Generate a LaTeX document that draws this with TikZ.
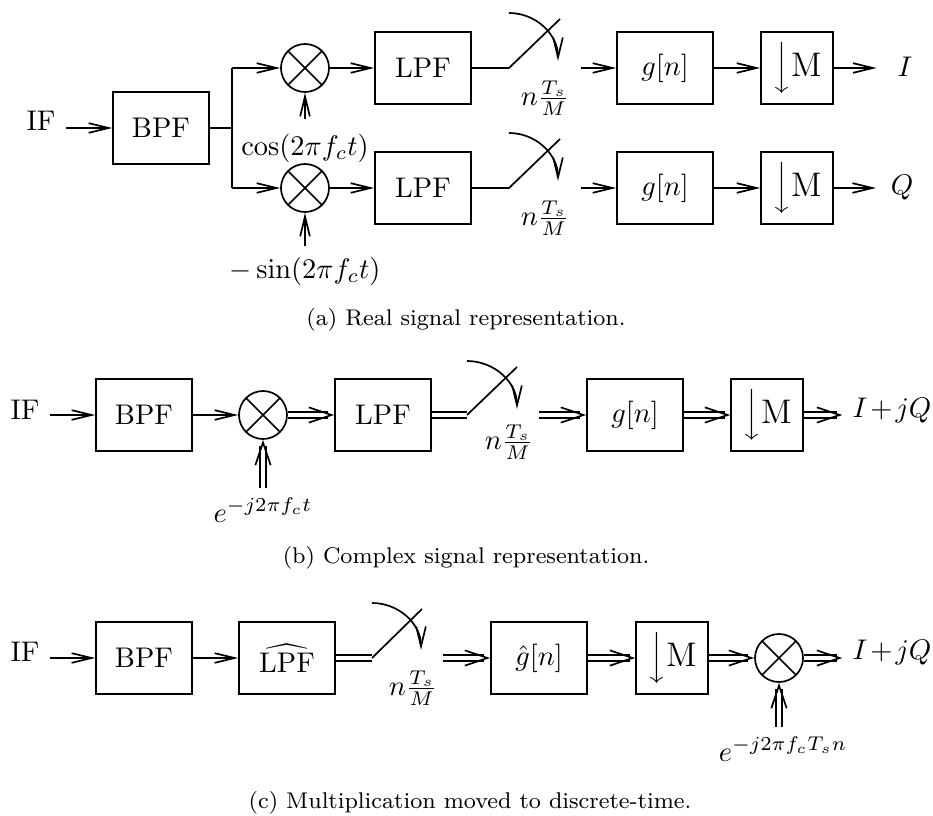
\documentclass[tikz,border=0pt]{standalone}
\usetikzlibrary{arrows.meta,decorations.markings}
\begin{document}
\tikzset{
  blk/.style={draw, rectangle, minimum width=33.8pt, minimum height=25.3pt, inner sep=0pt},
  nblk/.style={blk, minimum width=25.3pt},
  mixer/.style={draw, circle, minimum size=16.9pt, inner sep=0pt,
    path picture={\draw (path picture bounding box.north west) -- (path picture bounding box.south east)
                        (path picture bounding box.north east) -- (path picture bounding box.south west);}},
  sarrow/.style={-{Straight Barb[length=7pt,width=3.4pt]}},
  dline/.style={double, double distance=1.4pt},
  darrow/.style={dline, shorten >=2pt,
    postaction={decorate, decoration={markings,
      mark=at position 1 with {\arrow[line width=0.6pt]{Straight Barb[length=8pt,width=5.4pt]}}}}},
  captext/.style={font=\footnotesize},
  dsamp/.style={nblk, font=\large},
}
\newcommand\dnM{$\Big\downarrow$M}
\newcommand\sampl{$n\frac{T_s}{M}$}
\begin{tikzpicture}[x=0.352pt, y=-0.352pt, line width=0.6pt]
\useasboundingbox (0,0) rectangle (933,815);

% ---------------- (a) real signal path ----------------
\node (ifA) at (41,121) {IF};
\node[blk] (bpfA) at (161,128) {BPF};
\coordinate (brA) at (232,128);
\coordinate (brA1) at (232,68);
\coordinate (brA2) at (232,188);
\node[mixer] (mxA1) at (305,68) {};
\node[mixer] (mxA2) at (305,188) {};
\node (cosA) at (305,148) {$\cos(2\pi f_c t)$};
\node (sinA) at (305,271) {$-\sin(2\pi f_c t)$};
\node[blk] (lpfA1) at (423,68) {LPF};
\node[blk] (lpfA2) at (423,188) {LPF};
% samplers
\coordinate (swA1a) at (509,68);  \coordinate (swA1b) at (560,19);
\coordinate (cvA1a) at (509,13);  \coordinate (cvA1b) at (558,61);
\coordinate (swA2a) at (509,188); \coordinate (swA2b) at (560,139);
\coordinate (cvA2a) at (509,133); \coordinate (cvA2b) at (558,181);
\node (nA1) at (545,98) {\sampl};
\node (nA2) at (545,218) {\sampl};
\coordinate (sA1) at (581,68);
\coordinate (sA2) at (581,188);
\node[blk] (gA1) at (665,68) {$g[n]$};
\node[blk] (gA2) at (665,188) {$g[n]$};
\node[dsamp] (mA1) at (797,68) {\dnM};
\node[dsamp] (mA2) at (797,188) {\dnM};
\node (iA) at (905,67) {$I$};
\node (qA) at (902,188) {$Q$};

\draw[sarrow] (ifA.east |- bpfA.west) -- (bpfA.west);
\draw (bpfA.east) -- (brA);
\draw (brA1) -- (brA2);
\draw[sarrow] (brA1) -- (mxA1.west);
\draw[sarrow] (brA2) -- (mxA2.west);
\draw[sarrow, shorten <=1.5pt] (cosA.north) -- (mxA1.south);
\draw[sarrow] (sinA.north) -- (mxA2.south);
\draw[sarrow] (mxA1.east) -- (lpfA1.west);
\draw[sarrow] (mxA2.east) -- (lpfA2.west);
\draw (lpfA1.east) -- (swA1a) -- (swA1b);
\draw (lpfA2.east) -- (swA2a) -- (swA2b);
\draw[sarrow] (cvA1a) to[out=0,in=90] (cvA1b);
\draw[sarrow] (cvA2a) to[out=0,in=90] (cvA2b);
\draw[sarrow] (sA1) -- (gA1.west);
\draw[sarrow] (sA2) -- (gA2.west);
\draw[sarrow] (gA1.east) -- (mA1.west);
\draw[sarrow] (gA2.east) -- (mA2.west);
\draw[sarrow, shorten >=3.8pt] (mA1.east) -- (iA.west |- mA1.east);
\draw[sarrow, shorten >=1.6pt] (mA2.east) -- (qA.west |- mA2.east);
\node[captext] (capA) at (466,320) {(a) Real signal representation.};

% ---------------- (b) complex signal path ----------------
\node (ifB) at (25,410) {IF};
\node[blk] (bpfB) at (144,415) {BPF};
\node[mixer] (mxB) at (263,415) {};
\node (eB) at (263,510) {$e^{-j2\pi f_c t}$};
\node[blk] (lpfB) at (383,415) {LPF};
\coordinate (swBa) at (467,415); \coordinate (swBb) at (517,367);
\coordinate (cvBa) at (467,361); \coordinate (cvBb) at (517,409);
\node (nB) at (509,442) {\sampl};
\coordinate (sB) at (539,415);
\node[blk] (gB) at (635,415) {$g[n]$};
\node[dsamp] (mB) at (767,415) {\dnM};
\node (outB) at (892,411) {$I\mkern2mu{+}\mkern2mu jQ$};

\draw[sarrow] (ifB.east |- bpfB.west) -- (bpfB.west);
\draw[sarrow] (bpfB.east) -- (mxB.west);
\draw[darrow] (eB.north) -- (mxB.south);
\draw[darrow] (mxB.east) -- (lpfB.west);
\draw[dline] (lpfB.east) -- (swBa);
\draw (swBa) -- (swBb);
\draw[sarrow] (cvBa) to[out=0,in=90] (cvBb);
\draw[darrow] (sB) -- (gB.west);
\draw[darrow] (gB.east) -- (mB.west);
\draw[darrow] (mB.east) -- (outB.west |- mB.east);
\node[captext] (capB) at (466,558) {(b) Complex signal representation.};

% ---------------- (c) discrete-time mixing ----------------
\node (ifC) at (25,652) {IF};
\node[blk] (bpfC) at (144,658) {BPF};
\node[blk] (lpfC) at (287,658) {$\widehat{\mathrm{LPF}}$};
\coordinate (swCa) at (372,658); \coordinate (swCb) at (422,609);
\coordinate (cvCa) at (372,603); \coordinate (cvCb) at (421,650);
\node (nC) at (413,688) {\sampl};
\coordinate (sC) at (443,658);
\node[blk] (gC) at (539,658) {$\hat g[n]$};
\node[dsamp] (mC) at (672,658) {\dnM};
\node[mixer] (mxC) at (779,658) {};
\node (eC) at (783,749) {$e^{-j2\pi f_c T_s n}$};
\node (outC) at (892,653) {$I\mkern2mu{+}\mkern2mu jQ$};

\draw[sarrow] (ifC.east |- bpfC.west) -- (bpfC.west);
\draw[sarrow] (bpfC.east) -- (lpfC.west);
\draw[dline] (lpfC.east) -- (swCa);
\draw (swCa) -- (swCb);
\draw[sarrow] (cvCa) to[out=0,in=90] (cvCb);
\draw[darrow] (sC) -- (gC.west);
\draw[darrow] (gC.east) -- (mC.west);
\draw[darrow] (mC.east) -- (mxC.west);
\draw[darrow] (mxC |- eC.north) -- (mxC.south);
\draw[darrow] (mxC.east) -- (outC.west |- mxC.east);
\node[captext] (capC) at (470,803) {(c) Multiplication moved to discrete-time.};
\end{tikzpicture}
\end{document}
